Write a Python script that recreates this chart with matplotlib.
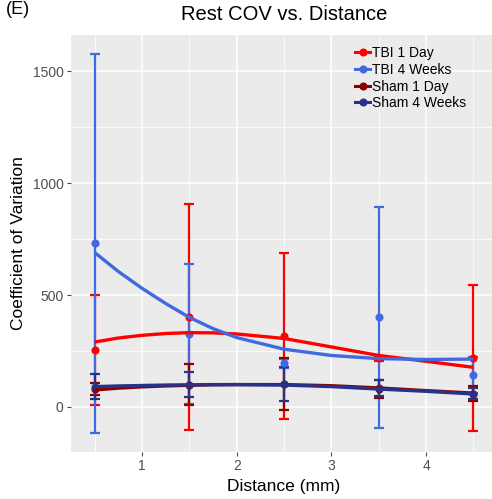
import numpy as np
import matplotlib.pyplot as plt
from matplotlib.lines import Line2D

plt.rcParams["font.family"] = ["Liberation Sans", "DejaVu Sans"]

# group means and error bars
distance = [0.5, 1.5, 2.5, 3.5, 4.5]
groups = ["TBI 1 Day", "TBI 4 Weeks", "Sham 1 Day", "Sham 4 Weeks"]
tbi1_mean = [254, 402, 317, 217, 220]
tbi1_err = [245, 504, 372, 10, 325]
tbi4_mean = [731, 326, 196, 400, 143]
tbi4_err = [845, 312, 20, 495, 80]
sham1_mean = [80, 100, 102, 80, 60]
sham1_err = [25, 90, 115, 40, 35]
sham4_mean = [91, 100, 104, 85, 60]
sham4_err = [55, 57, 76, 35, 25]

# smooth fit curves
curve_x = [0.5, 0.75, 1.0, 1.25, 1.5, 1.75, 2.0, 2.5, 3.0, 3.5, 4.0, 4.5]
tbi1_fit = [290, 308, 320, 328, 332, 331, 326, 306, 268, 230, 204, 177]
tbi4_fit = [690, 605, 530, 462, 400, 350, 310, 258, 230, 216, 212, 214]
sham1_fit = [76, 84, 90, 94, 97, 99, 100, 100, 95, 85, 73, 62]
sham4_fit = [91, 94, 96, 98, 99, 100, 100, 98, 91, 80, 70, 58]

colors = ["#FF0000", "#4169E1", "#8B0000", "#27338B"]
means = [tbi1_mean, tbi4_mean, sham1_mean, sham4_mean]
errs = [tbi1_err, tbi4_err, sham1_err, sham4_err]
fits = [tbi1_fit, tbi4_fit, sham1_fit, sham4_fit]

W, H = 492, 499
fig = plt.figure(figsize=(W / 100, H / 100), dpi=100)
left, right, top, bottom = 70.5, 497.6, 35, 452
ax = fig.add_axes([left / W, 1 - bottom / H, (right - left) / W, (bottom - top) / H])

ax.set_facecolor("#EBEBEB")
for s in ax.spines.values():
    s.set_visible(False)
ax.set_xlim(0.245, 4.755)
ax.set_ylim(-201, 1661)
ax.set_xticks([1, 2, 3, 4])
ax.set_xticks([0.5, 1.5, 2.5, 3.5, 4.5], minor=True)
ax.set_yticks([0, 500, 1000, 1500])
ax.set_yticks([250, 750, 1250], minor=True)
ax.grid(True, which="major", color="white", lw=1.1)
ax.grid(True, which="minor", color="white", lw=0.55)
ax.set_axisbelow(True)
ax.tick_params(which="major", colors="#4D4D4D", labelsize=10, length=3, width=0.8, pad=2)
ax.tick_params(which="minor", length=0)
for lab in ax.get_xticklabels() + ax.get_yticklabels():
    lab.set_color("#4D4D4D")

for m, e, c in zip(means, errs, colors):
    ax.errorbar(distance, m, yerr=e, fmt="o", color=c, ms=4.8, elinewidth=1.6,
                capsize=3.4, capthick=1.6, zorder=3)

for i in range(4):
    ax.plot(curve_x, fits[i], color=colors[i], lw=2.4, zorder=4, solid_capstyle="butt")

ax.set_xlabel("Distance (mm)", fontsize=12.5, labelpad=4)
ax.set_ylabel("Coefficient of Variation", fontsize=12.5, labelpad=5)
fig.text(284 / W, 1 - 15 / H, "Rest COV vs. Distance", ha="center", va="center", fontsize=14.5)
fig.text(0.012, 0.998, "(E)", ha="left", va="top", fontsize=13)

handles = [Line2D([], [], color=c, marker="o", ms=4.8, lw=2.2) for c in colors]
ax.legend(handles, groups, loc="upper left",
          bbox_to_anchor=((355 - left) / (right - left), 1 - 11 / (bottom - top)),
          frameon=False, fontsize=10, handlelength=1.1, handletextpad=0.1,
          labelspacing=0.2, borderaxespad=0, borderpad=0)

fig.savefig("out.png", dpi=100)
